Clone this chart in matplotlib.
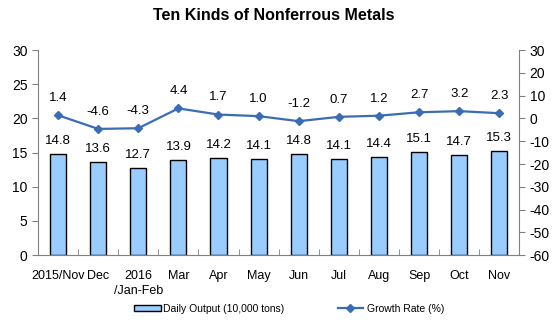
import numpy as np
import matplotlib.pyplot as plt

plt.rcParams['font.family'] = ['Liberation Sans', 'DejaVu Sans']
plt.rcParams['axes.unicode_minus'] = False

months = ['2015/Nov', 'Dec', '2016\n/Jan-Feb', 'Mar', 'Apr', 'May',
          'Jun', 'Jul', 'Aug', 'Sep', 'Oct', 'Nov']
output = [14.8, 13.6, 12.7, 13.9, 14.2, 14.1, 14.8, 14.1, 14.4, 15.1, 14.7, 15.3]
growth = [1.4, -4.6, -4.3, 4.4, 1.7, 1.0, -1.2, 0.7, 1.2, 2.7, 3.2, 2.3]

bar_color = '#99ccff'
line_color = '#3a6db5'

fig = plt.figure(figsize=(5.59, 3.23), dpi=100)
ax = fig.add_axes([0.068, 0.21, 0.861, 0.635])
x = np.arange(len(months))

ax.bar(x, output, width=0.4, color=bar_color, edgecolor='black',
       linewidth=1.0, label='Daily Output (10,000 tons)', zorder=2)
for xi, v in zip(x, output):
    ax.annotate(f'{v:.1f}', (xi, v), xytext=(0, 5), textcoords='offset points',
                ha='center', va='bottom', fontsize=9.5)

ax.set_xlim(-0.5, len(months) - 0.5)
ax.set_ylim(0, 30)
ax.set_yticks(range(0, 31, 5))
ax.set_xticks(x)
ax.set_xticklabels(months, fontsize=9, linespacing=1.3)
ax.tick_params(axis='x', length=0, pad=11)
ax.tick_params(axis='y', labelsize=10, length=4, direction='out', color='#808080')
# small inward ticks between categories
ax.set_xticks(np.arange(-0.5, len(months), 1), minor=True)
ax.tick_params(axis='x', which='minor', length=4, direction='in', color='#808080')
for s in ['top', 'right']:
    ax.spines[s].set_visible(False)
for s in ['left', 'bottom']:
    ax.spines[s].set_color('#808080')

ax2 = ax.twinx()
ax2.plot(x, growth, color=line_color, linewidth=1.6, marker='D', markersize=4,
         label='Growth Rate (%)', zorder=3)
for xi, v in zip(x, growth):
    ax2.annotate(f'{v:.1f}', (xi, v), xytext=(0, 8), textcoords='offset points',
                 ha='center', va='bottom', fontsize=9.5)
ax2.set_ylim(-60, 30)
ax2.set_yticks(range(-60, 31, 10))
ax2.tick_params(axis='y', labelsize=10, length=4, direction='out', color='#808080')
for s in ['top', 'left', 'bottom']:
    ax2.spines[s].set_visible(False)
ax2.spines['right'].set_color('#808080')

fig.suptitle('Ten Kinds of Nonferrous Metals', x=0.49, y=0.975,
             fontsize=11.5, fontweight='bold')

# two separate legends under the plot
h1, l1 = ax.get_legend_handles_labels()
h2, l2 = ax2.get_legend_handles_labels()
leg1 = fig.legend(h1, l1, loc='center left', bbox_to_anchor=(0.232, 0.043),
                  frameon=False, fontsize=7.5, handlelength=2.6,
                  handleheight=0.5, handletextpad=0.15, borderaxespad=0)
fig.legend(h2, l2, loc='center left', bbox_to_anchor=(0.597, 0.043),
           frameon=False, fontsize=7.5, handlelength=2.4,
           handletextpad=0.4, borderaxespad=0)

fig.savefig('out.png', dpi=100)
